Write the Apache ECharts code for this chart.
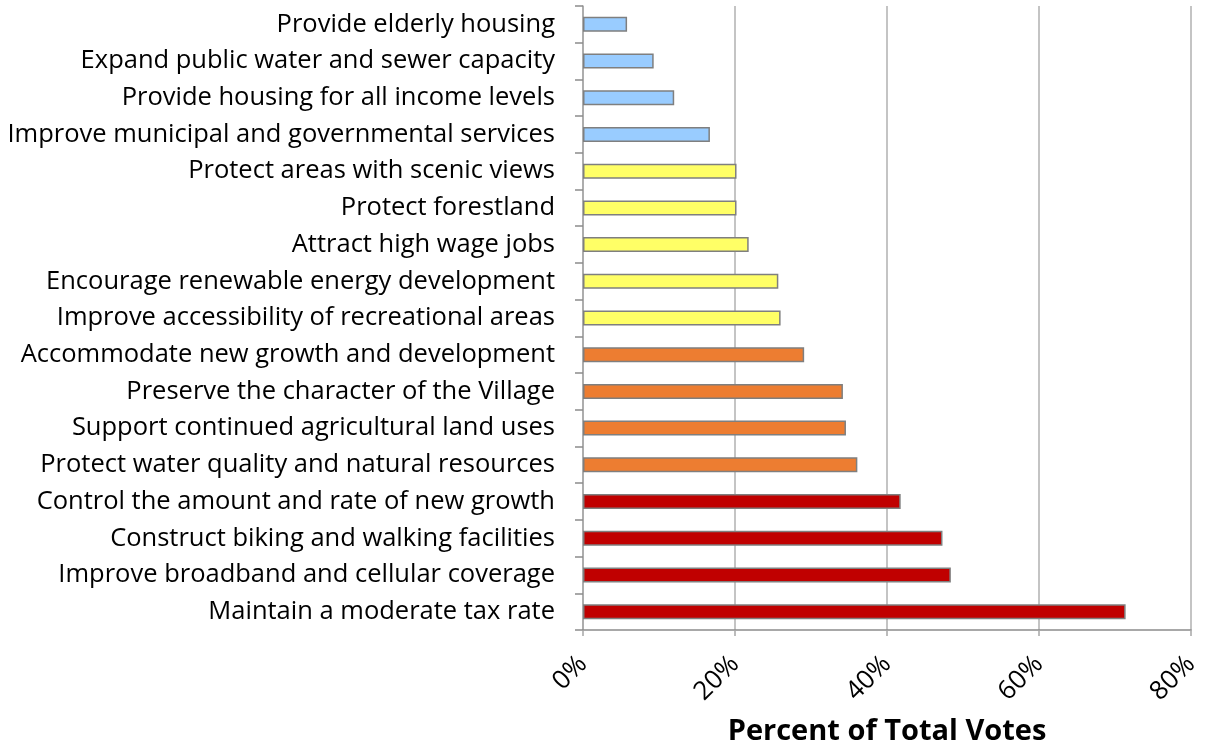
<!DOCTYPE html>
<html>
<head>
<meta charset="utf-8">
<script src="https://cdn.jsdelivr.net/npm/echarts@6/dist/echarts.min.js"></script>
<style>
  html, body { margin: 0; padding: 0; background: #fff; }
  #chart { width: 1207px; height: 751px; }
</style>
</head>
<body>
<div id="chart"></div>
<script>
// Survey priorities, listed top to bottom
const categories = [
  'Provide elderly housing',
  'Expand public water and sewer capacity',
  'Provide housing for all income levels',
  'Improve municipal and governmental services',
  'Protect areas with scenic views',
  'Protect forestland',
  'Attract high wage jobs',
  'Encourage renewable energy development',
  'Improve accessibility of recreational areas',
  'Accommodate new growth and development',
  'Preserve the character of the Village',
  'Support continued agricultural land uses',
  'Protect water quality and natural resources',
  'Control the amount and rate of new growth',
  'Construct biking and walking facilities',
  'Improve broadband and cellular coverage',
  'Maintain a moderate tax rate'
];

// Percent of total votes per priority
const votes = [5.8, 9.3, 12.0, 16.7, 20.2, 20.2, 21.8, 25.7, 26.0, 29.1, 34.2, 34.6, 36.1, 41.8, 47.3, 48.4, 71.4];

// Priority tier of each item (0 = lowest, 3 = highest)
const tiers = [0, 0, 0, 0, 1, 1, 1, 1, 1, 2, 2, 2, 2, 3, 3, 3, 3];
const tierColors = ['#99CCFF', '#FFFF66', '#ED7D31', '#C00000'];

const xTicks = { min: 0, max: 80, interval: 20 };

const chart = echarts.init(document.getElementById('chart'), null, { renderer: 'canvas' });

const FONT = '"Open Sans"';

chart.setOption({
  animation: false,
  backgroundColor: '#ffffff',
  grid: { left: 583, right: 16, top: 6, bottom: 115, containLabel: false },
  xAxis: {
    type: 'value',
    min: xTicks.min,
    max: xTicks.max,
    interval: xTicks.interval,
    name: 'Percent of Total Votes',
    nameLocation: 'middle',
    nameGap: 87,
    nameTextStyle: { fontFamily: FONT, fontWeight: 'bold', fontSize: 29, color: '#000' },
    axisLine: { show: true, lineStyle: { color: '#8c8c8c', width: 1.5 } },
    axisTick: { show: true, length: 6, lineStyle: { color: '#a6a6a6', width: 1.5 } },
    axisLabel: {
      rotate: 45,
      margin: 30,
      fontFamily: FONT,
      fontSize: 26,
      color: '#000',
      formatter: '{value}%'
    },
    splitLine: { show: true, lineStyle: { color: '#b0b0b0', width: 1.5 } }
  },
  yAxis: {
    type: 'category',
    data: categories,
    inverse: true,
    axisLine: { show: true, lineStyle: { color: '#a6a6a6', width: 1.5 } },
    axisTick: { show: true, length: 8, lineStyle: { color: '#8c8c8c', width: 1.5 } },
    axisLabel: {
      margin: 28,
      padding: [3, 0, 0, 0],
      fontFamily: FONT,
      fontSize: 25.5,
      color: '#000'
    }
  },
  series: [{
    type: 'bar',
    data: votes.map((v, i) => ({
      value: v,
      itemStyle: { color: tierColors[tiers[i]] }
    })),
    barWidth: 15,
    itemStyle: { borderColor: '#7f7f7f', borderWidth: 1.5 }
  }]
});
</script>
</body>
</html>
